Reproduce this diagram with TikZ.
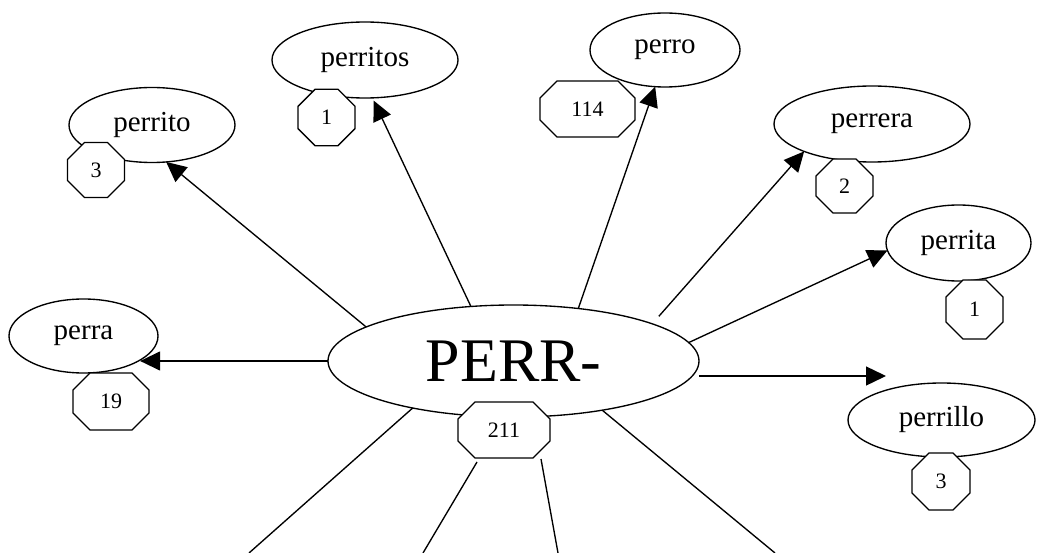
\documentclass[tikz,border=0pt]{standalone}
\usepackage{fontspec}
\setmainfont{Liberation Serif}
\usetikzlibrary{arrows.meta,shapes.geometric}
\tikzset{
  word/.style={ellipse, draw, line width=1.35pt, fill=white, inner sep=0pt, outer sep=0pt,
    font=\fontsize{29pt}{29pt}\selectfont},
  conn/.style={line width=1.35pt},
  arr/.style={conn, -{Triangle[length=20pt,width=19pt]}},
  octline/.style={draw, line width=1.35pt, fill=white, line join=miter},
  numtext/.style={inner sep=0pt, outer sep=0pt, font=\fontsize{22pt}{22pt}\selectfont},
}
% name, cx, cy, half width, half height, text
\newcommand\octnode[6]{%
  \path[octline] ({#2-#4+17},{#3-#5}) -- ({#2+#4-17},{#3-#5}) -- ({#2+#4},{#3-#5+17})
    -- ({#2+#4},{#3+#5-17}) -- ({#2+#4-17},{#3+#5}) -- ({#2-#4+17},{#3+#5})
    -- ({#2-#4},{#3+#5-17}) -- ({#2-#4},{#3-#5+17}) -- cycle;
  \node[numtext] (#1) at (#2,#3) {#6};}
\begin{document}
\begin{tikzpicture}[x=1pt,y=-1pt]
\useasboundingbox (0,0) rectangle (1044,553);

% nodes (ellipses)
\node[word, minimum width=371pt, minimum height=112pt, font=\fontsize{62pt}{62pt}\selectfont] (C) at (513.5,361) {PERR-};
\node[word, minimum width=166pt, minimum height=75pt] (perrito) at (152,125) {perrito};
\node[word, minimum width=186pt, minimum height=76pt] (perritos) at (365,60) {perritos};
\node[word, minimum width=150pt, minimum height=74pt] (perro) at (665,50) {perro};
\node[word, minimum width=196pt, minimum height=76pt] (perrera) at (872,124) {perrera};
\node[word, minimum width=145pt, minimum height=76pt] (perrita) at (958.5,243) {perrita};
\node[word, minimum width=187pt, minimum height=74pt] (perrillo) at (941.5,420) {perrillo};
\node[word, minimum width=149pt, minimum height=74pt] (perra) at (83.5,336) {perra};

% free ends
\coordinate (tipL) at (886,376);
\coordinate (s9) at (477,462);
\coordinate (s10) at (541,459);
\coordinate (b1) at (249,553);
\coordinate (b2) at (423,553);
\coordinate (b3) at (558,553);
\coordinate (b4) at (775,553);

% connectors
\draw[arr] (C.167.7) -- (perrito.-69.8);
\draw[arr, shorten >=3pt] (C.128.4) -- (perritos.-79.2);
\draw[arr] (C.39.7) -- (perro.-105.9);
\draw[arr, shorten <=10pt] (C.15.2) -- (perrera.-158.2);
\draw[arr] (C.6.4) -- (perrita.-174);
\draw[arr] (tipL -| C.east) -- (tipL);
\draw[arr] (C.west) -- (C.west -| perra.-23.1);
\draw[conn] (C.-155.2) -- (b1);
\draw[conn] (s9) -- (b2);
\draw[conn] (s10) -- (b3);
\draw[conn] (C.-29) -- (b4);

% count octagons
\octnode{n211}{504}{430}{46}{28}{211}
\octnode{nperrito}{96}{170}{28.5}{27.5}{3}
\octnode{nperritos}{326.5}{117.5}{28.5}{28.2}{1}
\octnode{nperro}{587.5}{109}{47.5}{28}{114}
\octnode{nperrera}{844.5}{186}{28.5}{27}{2}
\octnode{nperrita}{974.5}{309.5}{28.5}{29.5}{1}
\octnode{nperrillo}{941}{481.5}{29}{28.5}{3}
\octnode{nperra}{111}{401.5}{38}{28.5}{19}
\end{tikzpicture}
\end{document}
